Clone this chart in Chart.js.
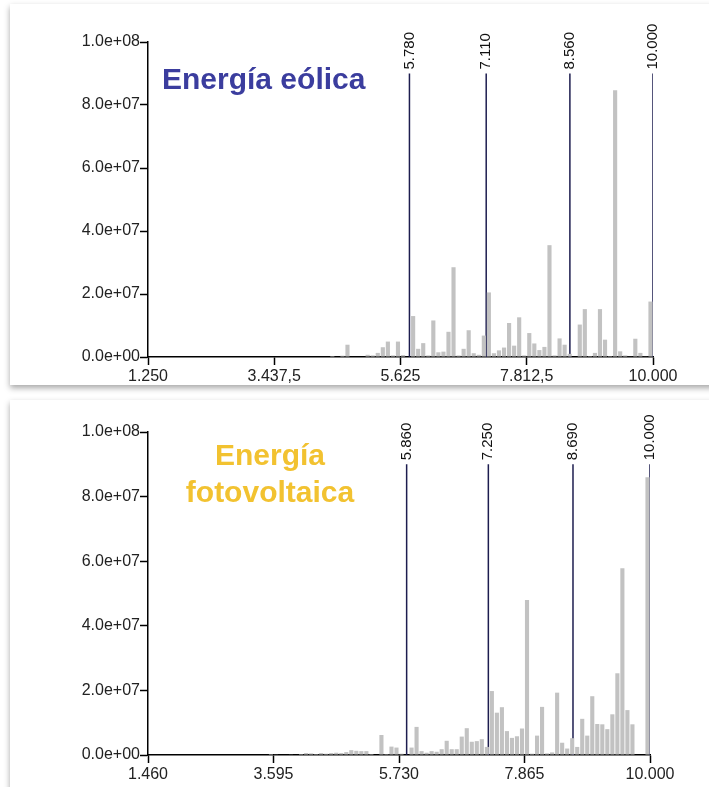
<!DOCTYPE html>
<html>
<head>
<meta charset="utf-8">
<script src="https://cdn.jsdelivr.net/npm/chart.js@4.4.1/dist/chart.umd.min.js"></script>
<style>
  html, body { margin: 0; padding: 0; background: #fff; }
  body { width: 709px; height: 787px; position: relative; overflow: hidden; font-family: "Liberation Sans", Arial, sans-serif; }
  .panel { position: absolute; background: #fff; box-shadow: 0 3px 6px rgba(0, 0, 0, 0.35); }
  canvas { position: absolute; left: 0; }
  .title { position: absolute; font-weight: bold; font-size: 30px; white-space: nowrap; }
</style>
</head>
<body>
<div class="panel" style="left:10px; top:4px; width:720px; height:381px"></div>
<div class="panel" style="left:10px; top:400px; width:720px; height:400px"></div>
<canvas id="eolica" width="709" height="385" style="top:0"></canvas>
<canvas id="fotovoltaica" width="709" height="392" style="top:395px"></canvas>
<div class="title" style="left:162px; top:62px; color:#3b3d9e">Energía eólica</div>
<div class="title" style="left:170px; top:436px; width:200px; text-align:center; line-height:37px; color:#f2c230">Energía<br>fotovoltaica</div>

<script>
// histogram counts, in millions, 100 bins per panel
const eolicaValues = [
  0, 0, 0, 0, 0, 0, 0, 0, 0, 0,
  0, 0, 0, 0, 0, 0, 0, 0, 0, 0,
  0, 0, 0, 0, 0, 0, 0, 0, 0, 0,
  0, 0, 0, 0, 0, 0, 0.3, 0, 0.4, 3.9,
  0, 0, 0, 0.7, 0.5, 1.3, 3.1, 4.9, 0.5, 4.9,
  0.6, 0, 13.0, 2.6, 4.4, 0.5, 11.6, 1.5, 1.7, 8.0,
  28.5, 0.5, 2.6, 8.5, 1.2, 0.7, 6.8, 20.5, 1.2, 2.1,
  3.0, 10.8, 3.6, 12.6, 0.5, 7.6, 4.3, 2.2, 3.2, 35.5,
  0.5, 5.9, 3.9, 1.0, 0, 10.3, 15.2, 0.3, 1.3, 15.2,
  5.5, 0.3, 84.7, 1.8, 0.5, 0.2, 5.8, 1.3, 0.2, 17.6,
];
const fotoValues = [
  0, 0, 0, 0, 0, 0, 0, 0, 0, 0,
  0, 0, 0, 0, 0, 0, 0, 0, 0, 0,
  0, 0, 0, 0, 0.3, 0.2, 0, 0, 0.2, 0,
  0.3, 0.6, 0.5, 0.3, 0.6, 0.4, 0.6, 0.7, 0.6, 0.9,
  1.5, 1.3, 1.2, 1.2, 0.3, 0, 6.2, 0.3, 2.6, 2.3,
  0.4, 0, 2.3, 8.7, 1.2, 0.7, 1.2, 1.0, 1.8, 4.4,
  1.8, 1.8, 5.7, 8.3, 4.1, 4.3, 4.9, 2.5, 19.8, 13.1,
  14.8, 7.4, 5.3, 5.8, 8.2, 48.0, 0.4, 6.0, 14.9, 0.5,
  0.8, 19.3, 3.8, 2.0, 5.2, 2.5, 11.2, 6.0, 18.2, 9.6,
  9.5, 8.0, 12.6, 25.3, 57.8, 13.9, 9.5, 0, 0, 86.0,
];

const eolicaRange = [1.25, 10];
const fotoRange = [1.46, 10];

const eolicaXTicks = [1.25, 3.4375, 5.625, 7.8125, 10];
const eolicaXLabels = ["1.250", "3.437,5", "5.625", "7.812,5", "10.000"];
const fotoXTicks = [1.46, 3.595, 5.73, 7.865, 10];
const fotoXLabels = ["1.460", "3.595", "5.730", "7.865", "10.000"];

const yTicks = [0, 2e7, 4e7, 6e7, 8e7, 1e8];
const yLabels = ["0.0e+00", "2.0e+07", "4.0e+07", "6.0e+07", "8.0e+07", "1.0e+08"];

const eolicaCuts = [5.78, 7.11, 8.56, 10];
const eolicaCutLabels = ["5.780", "7.110", "8.560", "10.000"];
const fotoCuts = [5.86, 7.25, 8.69, 10];
const fotoCutLabels = ["5.860", "7.250", "8.690", "10.000"];
const cutTop = 9e7;

const barColor = "#c2c2c2";
const cutColor = "#1d1d4f";
const tickFont = { family: "'Liberation Sans', Arial, sans-serif", size: 16 };

// rotated numbers above each cut line
const cutLabelsPlugin = {
  id: "cutLabels",
  afterDatasetsDraw(chart, args, opts) {
    const { ctx, scales } = chart;
    ctx.save();
    ctx.font = "15px 'Liberation Sans', Arial, sans-serif";
    ctx.fillStyle = "#111";
    ctx.textAlign = "left";
    ctx.textBaseline = "middle";
    opts.values.forEach((v, i) => {
      const x = scales.x.getPixelForValue(v);
      const y = scales.y.getPixelForValue(cutTop) - 4;
      ctx.save();
      ctx.translate(x, y);
      ctx.rotate(-Math.PI / 2);
      ctx.fillText(opts.labels[i], 0, 0);
      ctx.restore();
    });
    ctx.restore();
  },
};

function makeChart(id, values, range, xTicks, xLabels, cuts, cutLabels, pad, xHeight) {
  const binWidth = (range[1] - range[0]) / values.length;
  const bars = values.map((v, i) => ({ x: range[0] + (i + 0.5) * binWidth, y: v * 1e6 }));
  const lines = cuts.map((c) => ({
    type: "line",
    data: [{ x: c, y: 0 }, { x: c, y: cutTop }],
    borderColor: cutColor,
    borderWidth: 1.5,
    pointRadius: 0,
  }));

  new Chart(document.getElementById(id), {
    type: "bar",
    data: {
      datasets: [
        {
          data: bars,
          backgroundColor: barColor,
          borderWidth: 0,
          barPercentage: 0.82,
          categoryPercentage: 1,
        },
        ...lines,
      ],
    },
    plugins: [cutLabelsPlugin],
    options: {
      responsive: false,
      animation: false,
      layout: { padding: pad },
      plugins: {
        legend: { display: false },
        tooltip: { enabled: false },
        cutLabels: { values: cuts, labels: cutLabels },
      },
      scales: {
        x: {
          type: "linear",
          min: range[0],
          max: range[1],
          offset: false,
          afterBuildTicks: (s) => { s.ticks = xTicks.map((v) => ({ value: v })); },
          afterFit: (s) => { s.height = xHeight; },
          ticks: {
            autoSkip: false,
            maxRotation: 0,
            padding: 2,
            color: "#222",
            font: tickFont,
            callback: (v, i) => xLabels[i],
          },
          grid: { offset: false, drawOnChartArea: false, color: "#000", tickLength: 8, tickWidth: 1.5 },
          border: { color: "#000", width: 1.5 },
        },
        y: {
          min: 0,
          max: 1e8,
          afterBuildTicks: (s) => { s.ticks = yTicks.map((v) => ({ value: v })); },
          afterFit: (s) => { s.width = 148; },
          ticks: {
            padding: 0,
            color: "#222",
            font: tickFont,
            callback: (v, i) => yLabels[i],
          },
          grid: { drawOnChartArea: false, color: "#000", tickLength: 8, tickWidth: 1.5 },
          border: { color: "#000", width: 1.5 },
        },
      },
    },
  });
}

makeChart("eolica", eolicaValues, eolicaRange, eolicaXTicks, eolicaXLabels,
  eolicaCuts, eolicaCutLabels, { top: 42, right: 56, bottom: 0, left: 0 }, 28);
makeChart("fotovoltaica", fotoValues, fotoRange, fotoXTicks, fotoXLabels,
  fotoCuts, fotoCutLabels, { top: 37, right: 59, bottom: 0, left: 0 }, 32);
</script>
</body>
</html>
